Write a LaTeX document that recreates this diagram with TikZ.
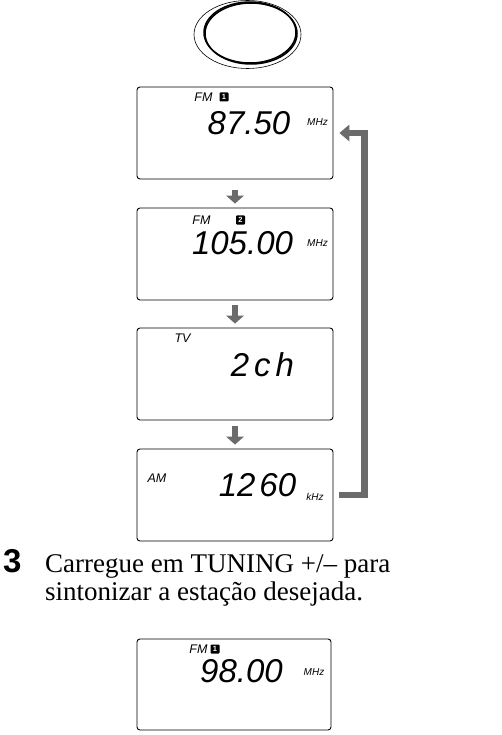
\documentclass[tikz,border=0pt]{standalone}
\usepackage{fontspec}
\setmainfont{Liberation Serif}
\setsansfont{Liberation Sans}
\usepackage{tikz}
\usetikzlibrary{arrows.meta}
\definecolor{arrowgray}{HTML}{6B6B6B}
\tikzstyle{lcd}=[draw, rounded corners=3pt, line width=0.9pt, minimum width=196pt, minimum height=92pt, inner sep=0pt]
\tikzstyle{digits}=[inner sep=0pt, font=\sffamily\itshape\fontsize{33}{33}\selectfont]
\tikzstyle{band}=[inner sep=0pt, font=\sffamily\itshape\fontsize{12.5}{12.5}\selectfont]
\tikzstyle{unit}=[inner sep=0pt, font=\sffamily\itshape\fontsize{10}{10}\selectfont]
\tikzstyle{preset}=[fill=black, text=white, minimum size=9pt, inner sep=0pt, rounded corners=0.8pt, font=\sffamily\bfseries\fontsize{7.5}{7.5}\selectfont]
\tikzstyle{arrow}=[draw=arrowgray, line width=6pt, -{Triangle[width=18pt,length=8pt,line width=0pt]}]
\tikzstyle{loopback}=[draw=arrowgray, line width=6.5pt, -{Triangle[width=17pt,length=10pt,line width=0pt]}]

\begin{document}
\begin{tikzpicture}[x=1pt, y=-1pt]
	\useasboundingbox (0,0) rectangle (501,735);
	% button
	\begin{scope}
		\draw[line width=0.6pt] (247.5,34.5) ellipse [x radius=53.5pt, y radius=34pt];
		\draw[line width=1.5pt] (250,32.5) ellipse [x radius=46pt, y radius=30.5pt];
		\draw[line width=1.5pt] (251,33.5) ellipse [x radius=46pt, y radius=30.5pt];
	\end{scope}
	% displays
	\begin{scope}
		\node (fm1) at (235,133) [lcd] {};
		\node (fm1band) at (203.5,97) [band] {FM};
		\node (fm1key) at (224,97) [preset] {1};
		\node (fm1freq) at (249,123) [digits] {87.50};
		\node (fm1unit) at (317.5,122) [unit] {MHz};

		\node (fm2) at (235,254) [lcd] {};
		\node (fm2band) at (201.5,220) [band] {FM};
		\node (fm2key) at (240.5,220) [preset] {2};
		\node (fm2freq) at (242.5,243) [digits] {105.00};
		\node (fm2unit) at (317.5,243) [unit] {MHz};

		\node (tv) at (235,374) [lcd] {};
		\node (tvband) at (182.5,338.5) [band] {TV};
		\node (tvchan) at (262.5,364.5) [digits] {2\hspace{5pt}c\hspace{5pt}h};

		\node (am) at (235,495) [lcd] {};
		\node (amband) at (157,478) [band] {AM};
		\node (amfreq) at (257.5,485) [digits] {12\hspace{4pt}60};
		\node (amunit) at (315,497) [unit] {kHz};
	\end{scope}
	\begin{scope}
		\draw [arrow] ([yshift=-11pt]fm1.south) -- ([yshift=4pt]fm2.north);
		\draw [arrow] ([yshift=-5pt]fm2.south) -- ([yshift=4pt]tv.north);
		\draw [arrow] ([yshift=-6pt]tv.south) -- ([yshift=4pt]am.north);
		\draw [loopback] ([xshift=6pt]am.east) -- ++(25,0) |- ([xshift=6pt]fm1.east);
	\end{scope}
	% step 3
	\node (stepno) at (3,572) [anchor=base west, inner sep=0pt, font=\sffamily\bfseries\fontsize{33}{33}\selectfont] {3};
	\node (line1) at (45,572) [anchor=base west, inner sep=0pt, font=\fontsize{27}{28}\selectfont] {Carregue em TUNING +/– para};
	\node (line2) at (45,600) [anchor=base west, inner sep=0pt, font=\fontsize{27}{28}\selectfont] {sintonizar a estação desejada.};
	% tuned station
	\begin{scope}
		\node (tuned) at (234,684.5) [lcd, minimum width=194pt, minimum height=91pt] {};
		\node (tunedband) at (198.5,649) [band] {FM};
		\node (tunedkey) at (215,649) [preset] {1};
		\node (tunedfreq) at (241.5,671.5) [digits] {98.00};
		\node (tunedunit) at (314,672.5) [unit] {MHz};
	\end{scope}
\end{tikzpicture}
\end{document}
